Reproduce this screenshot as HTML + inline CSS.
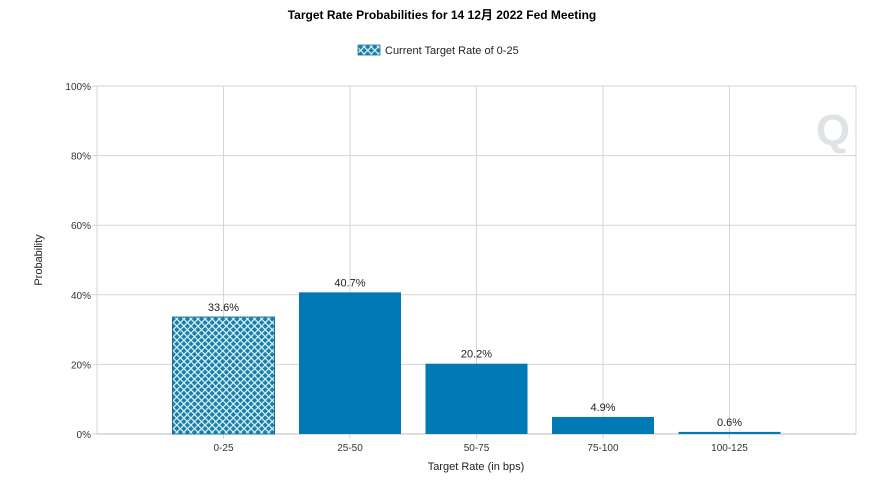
<!DOCTYPE html>
<html><head><meta charset="utf-8"><style>
body{margin:0;background:#fff;font-family:"Liberation Sans","Noto Sans CJK SC",sans-serif;}
svg text{font-family:"Liberation Sans","Noto Sans CJK SC",sans-serif;}
</style></head><body>
<svg id="c" width="879" height="483">
<defs>
<pattern id="hatch" width="5" height="5" patternUnits="userSpaceOnUse" patternTransform="rotate(45)">
<rect width="5" height="5" fill="#1a7fa8"/>
<rect width="1.2" height="5" fill="#dff4fb"/>
<rect width="5" height="1.2" fill="#dff4fb"/>
</pattern>
</defs>
<text x="442" y="19" text-anchor="middle" font-size="12" font-weight="bold">Target Rate Probabilities for 14 12月 2022 Fed Meeting</text>
<g>
<rect x="358" y="45" width="22" height="10" fill="url(#hatch)" stroke="#1a6f90" stroke-width="0.8"/>
<text x="385" y="54" font-size="11" fill="#222">Current Target Rate of 0-25</text>
</g>
<g id="grid"></g>
<g id="bars"></g>
<text transform="translate(42,260) rotate(-90)" text-anchor="middle" font-size="11" fill="#222">Probability</text>
<text x="476" y="470" text-anchor="middle" font-size="11" fill="#222">Target Rate (in bps)</text>
<g>
<text x="833" y="145" text-anchor="middle" font-size="44" font-weight="bold" fill="#dfe3e6">Q</text>
</g>
</svg>
<script>
const categories=["0-25","25-50","50-75","75-100","100-125"];
const values=[33.6,40.7,20.2,4.9,0.6];
const labels=["33.6%","40.7%","20.2%","4.9%","0.6%"];
const yTicks=[0,20,40,60,80,100];
const L=97,R=856,T=86,B=434;
const slot=(R-L)/(categories.length+1);
const x=i=>L+(i+1)*slot;
const y=v=>B-(v/100)*(B-T);
const ns="http://www.w3.org/2000/svg";
const g=document.getElementById('grid'),bg=document.getElementById('bars');
function mk(t,a,p,txt){const e=document.createElementNS(ns,t);for(const k in a)e.setAttribute(k,a[k]);if(txt!==undefined)e.textContent=txt;p.appendChild(e);return e;}
yTicks.forEach(v=>{
 const l=mk('line',{x1:L-5,x2:R,y1:y(v),y2:y(v),stroke:'#d6d6d6'},g);
 
 
 const t=mk('text',{x:L-6,y:y(v)+4,'text-anchor':'end','font-size':10,fill:'#333'},g,v+'%');
 
 
});
mk('line',{x1:L,x2:L,y1:T,y2:B,stroke:'#d6d6d6'},g);
mk('line',{x1:R,x2:R,y1:T,y2:B,stroke:'#d6d6d6'},g);
categories.forEach((c,i)=>{
 const l=mk('line',{x1:x(i),x2:x(i),y1:T,y2:B+5,stroke:'#d6d6d6'},g);
 
 
 const t=mk('text',{x:x(i),y:B+17,'text-anchor':'middle','font-size':10,fill:'#333'},g,c);
 
 
});
values.forEach((v,i)=>{
 const w=102;
 const r=mk('rect',{x:x(i)-w/2,y:y(v),width:w,height:B-y(v),fill:i===0?'url(#hatch)':'#0079b5',stroke:i===0?'#1a6f90':'none'},bg);
 
 
 const t=mk('text',{x:x(i),y:y(v)-6,'text-anchor':'middle','font-size':11,fill:'#222'},bg,labels[i]);
 
 
});
mk('line',{x1:L,x2:R,y1:B,y2:B,stroke:'#bbb'},g);
</script>
</body></html>
